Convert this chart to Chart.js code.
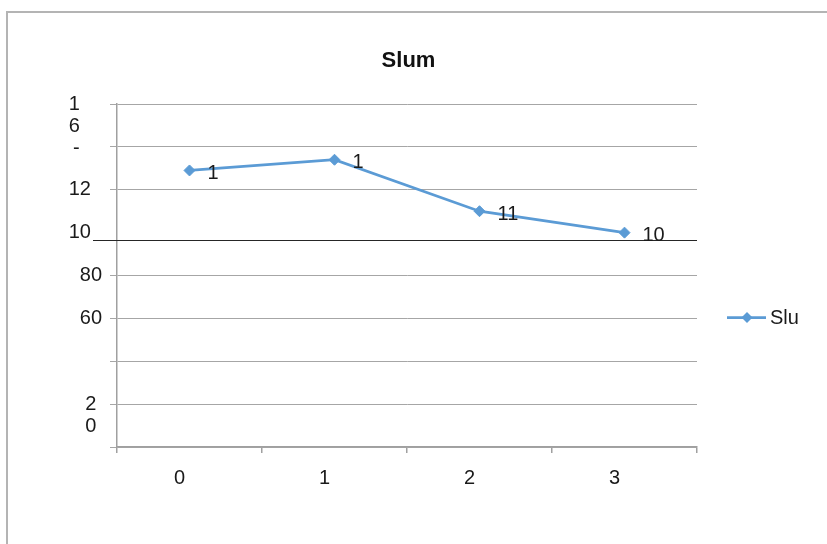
<!DOCTYPE html>
<html>
<head>
<meta charset="utf-8">
<script src="https://cdn.jsdelivr.net/npm/chart.js@4.4.1/dist/chart.umd.min.js"></script>
<style>
  html, body { margin: 0; padding: 0; background: #ffffff; width: 827px; height: 544px; overflow: hidden; }
  #frame {
    position: absolute; left: 6px; top: 11px; width: 900px; height: 600px;
    border-left: 2px solid #b4b4b4; border-top: 2px solid #b4b4b4; box-sizing: border-box;
  }
  #chart { position: absolute; left: 0; top: 0; }
</style>
</head>
<body>
<div id="frame"></div>
<canvas id="chart" width="827" height="544"></canvas>
<script>
// ---- chart data ----
const chartTitle = 'Slum';
const seriesName = 'Slu';
const categories = ['0', '1', '2', '3'];
const slumValues = [129, 134, 110, 100];
const pointLabels = ['1', '1', '11', '10'];
// y tick labels for 0, 20, ... 160 (as printed, including the wrapped ones)
const yTickLabels = ['', ['', '2 ', '0 '], '', '60', '80', '10  ', '12  ', '', ['', '', '1    ', '6    ', '-    ']];
const yMin = 0;
const yMax = 160;
const yStep = 20;
const hiddenGridValue = 100;
const referenceLineValue = 96.5;

// ---- styles ----
const FONT = '"Liberation Sans", Arial, sans-serif';
const lineBlue = '#5b9bd5';
const gridGray = '#a6a6a6';
const axisGray = '#a0a0a0';
const textColor = '#1a1a1a';

const extras = {
  id: 'extras',
  beforeDatasetsDraw(chart) {
    const { ctx, chartArea, scales } = chart;
    const y = Math.round(scales.y.getPixelForValue(referenceLineValue)) + 0.5;
    ctx.save();
    ctx.strokeStyle = '#262626';
    ctx.lineWidth = 1.2;
    ctx.beginPath();
    ctx.moveTo(chartArea.left - 24, y);
    ctx.lineTo(chartArea.right, y);
    ctx.stroke();
    ctx.restore();
  },
  afterDatasetsDraw(chart) {
    const { ctx, chartArea } = chart;
    const meta = chart.getDatasetMeta(0);
    ctx.save();
    ctx.font = '20px ' + FONT;
    ctx.fillStyle = textColor;
    ctx.textAlign = 'left';
    ctx.textBaseline = 'middle';
    meta.data.forEach((pt, i) => {
      ctx.fillText(pointLabels[i], pt.x + 18, pt.y + 3);
    });

    // legend entry: line with diamond marker
    const lx = chartArea.right + 30;
    const ly = (chartArea.top + chartArea.bottom) / 2 + 42;
    ctx.strokeStyle = lineBlue;
    ctx.lineWidth = 2.75;
    ctx.beginPath();
    ctx.moveTo(lx, ly);
    ctx.lineTo(lx + 39, ly);
    ctx.stroke();
    const cx = lx + 20, r = 5.5;
    ctx.fillStyle = lineBlue;
    ctx.beginPath();
    ctx.moveTo(cx, ly - r);
    ctx.lineTo(cx + r, ly);
    ctx.lineTo(cx, ly + r);
    ctx.lineTo(cx - r, ly);
    ctx.closePath();
    ctx.fill();
    ctx.fillStyle = textColor;
    ctx.fillText(chart.data.datasets[0].label, lx + 43, ly + 1);
    ctx.restore();
  }
};

new Chart(document.getElementById('chart'), {
  type: 'line',
  data: {
    labels: categories,
    datasets: [{
      label: seriesName,
      data: slumValues,
      borderColor: lineBlue,
      backgroundColor: lineBlue,
      borderWidth: 2.75,
      tension: 0,
      pointStyle: 'rectRot',
      pointRadius: 5.5,
      pointBorderWidth: 1,
      pointBackgroundColor: lineBlue,
      pointBorderColor: lineBlue,
      clip: false
    }]
  },
  options: {
    responsive: false,
    animation: false,
    events: [],
    devicePixelRatio: 1,
    layout: { padding: { left: 0, right: 10, top: 0, bottom: 0 } },
    plugins: {
      legend: { display: false },
      tooltip: { enabled: false },
      title: {
        display: true,
        text: chartTitle,
        color: '#111111',
        font: { family: FONT, size: 22, weight: 'bold', lineHeight: 1.2 },
        padding: { top: 48, bottom: 29.6 }
      }
    },
    scales: {
      x: {
        type: 'category',
        offset: true,
        afterFit(s) { s.height = 97; },
        grid: {
          display: true,
          offset: true,
          drawOnChartArea: false,
          drawTicks: true,
          tickLength: 6,
          color: axisGray,
          lineWidth: 1.5
        },
        border: { display: true, color: axisGray, width: 1.5 },
        ticks: { padding: 13, labelOffset: -10, color: textColor, font: { family: FONT, size: 20 } }
      },
      y: {
        position: 'left',
        min: yMin,
        max: yMax,
        afterFit(s) { s.width = 117; },
        grid: {
          color: (c) => (c.tick && c.tick.value === hiddenGridValue) ? 'rgba(0,0,0,0)' : gridGray,
          lineWidth: 1,
          tickLength: 7
        },
        border: { display: true, color: axisGray, width: 1.5 },
        ticks: {
          stepSize: yStep,
          autoSkip: false,
          padding: 8,
          color: textColor,
          font: { family: FONT, size: 20, lineHeight: 1.1 },
          callback: (value, index) => yTickLabels[index]
        }
      },
      legendSpace: {
        type: 'linear',
        position: 'right',
        display: true,
        afterFit(s) { s.width = 120; },
        grid: { display: false, drawTicks: false },
        border: { display: false },
        ticks: { display: false }
      }
    }
  },
  plugins: [extras]
});
</script>
</body>
</html>
